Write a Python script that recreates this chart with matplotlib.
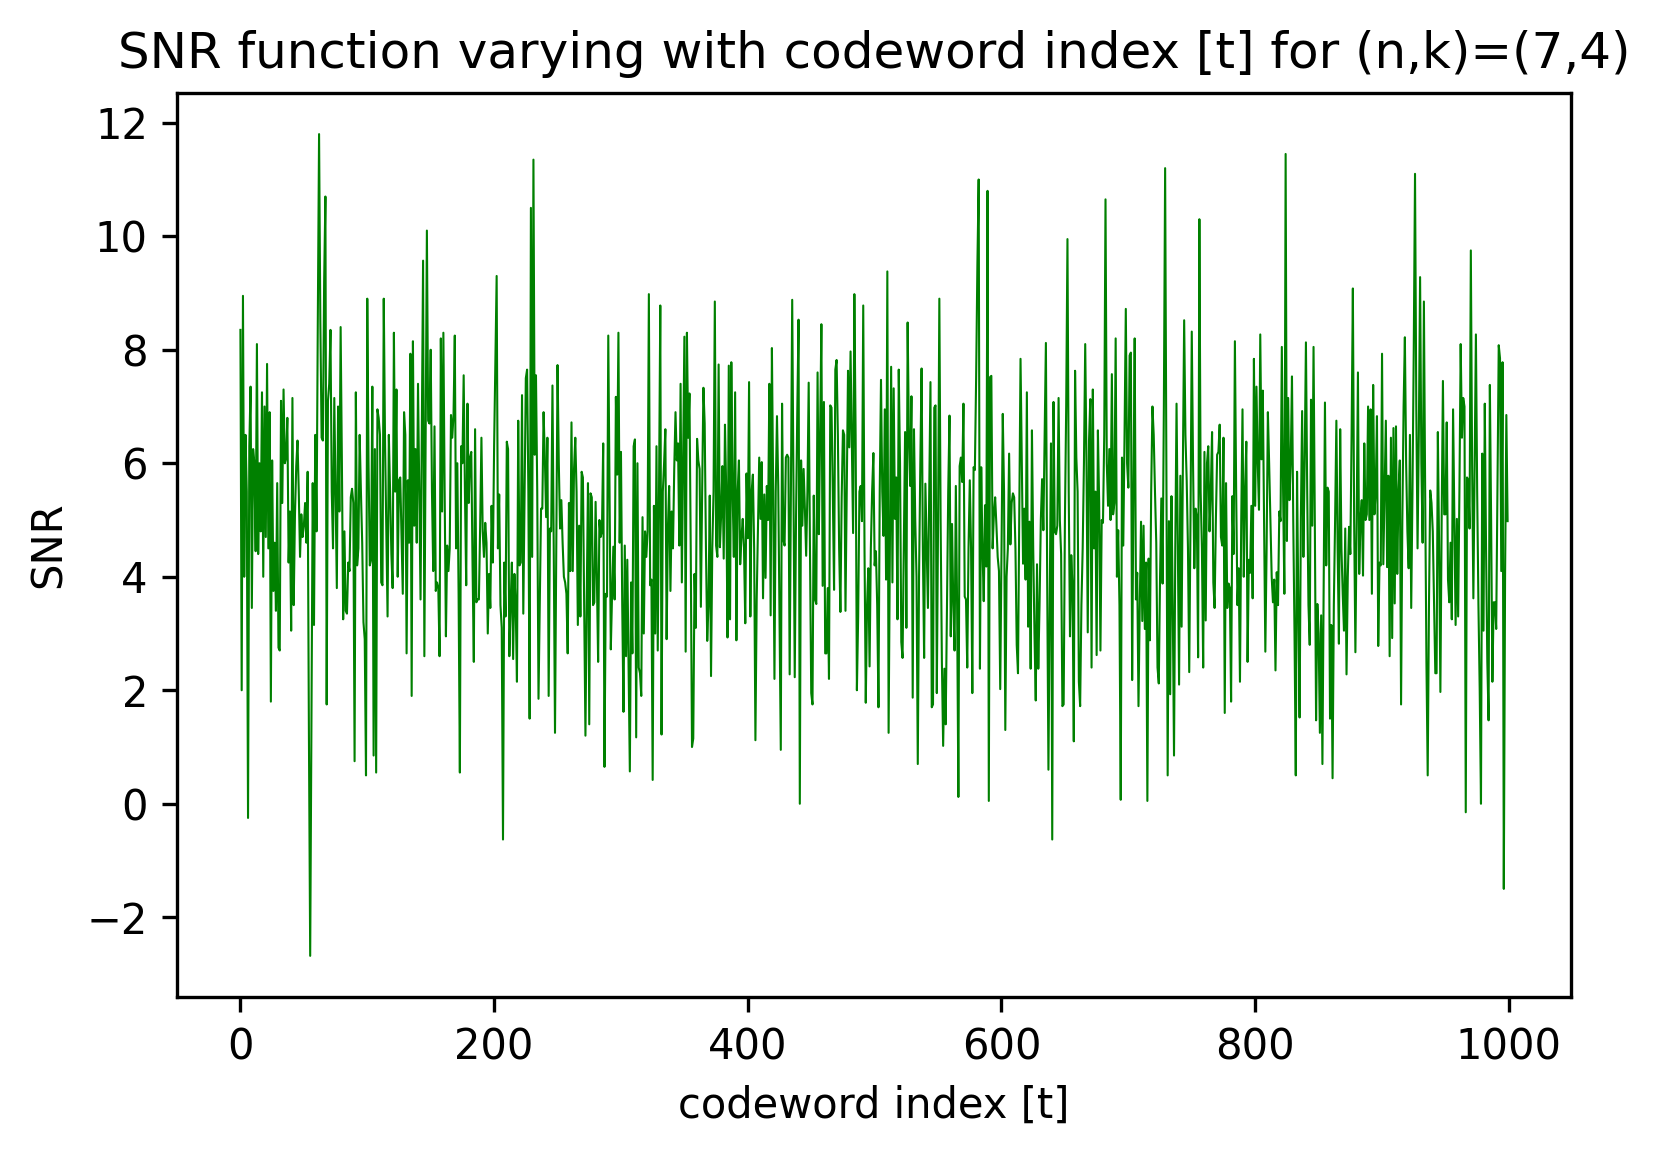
import numpy as np
import matplotlib.pyplot as plt

'''declare variable'''
plot_title = 'SNR function varying with codeword index [t] for (n,k)=(7,4)'
plot_save = 'out.png'

'''data (read off the reference, in blocks of codeword index)'''
snr_000_082 = [8.35, 2.0, 8.95, 4.0, 6.5, 5.5, -0.25, 6.3, 7.35, 3.45,
               6.25, 6.0, 4.45, 8.1, 4.4, 6.0, 4.8, 7.25, 4.0, 7.0,
               4.7, 7.75, 4.5, 6.9, 1.8, 6.05, 3.75, 4.6, 3.4, 5.65,
               2.75, 2.7, 7.1, 5.3, 7.3, 6.0, 6.1, 6.8, 4.25, 5.15,
               3.05, 7.15, 3.5, 5.1, 5.95, 6.4, 5.5, 4.35, 5.1, 4.7,
               4.9, 5.3, 4.6, 5.85, 1.2,
               -2.68, 1.5, 5.65, 3.15, 6.5, 4.8, 8.5, 11.8,
               8.5, 6.45, 6.4, 9.2, 10.7, 1.75, 7.1, 7.4, 8.35, 5.5,
               4.5, 7.15, 5.5, 3.8, 7.0, 5.15, 8.4, 6.0, 3.25, 4.8]
snr_083_167 = [3.4, 3.35, 4.25, 4.1, 5.4, 5.55, 5.3, 0.75, 7.25, 4.2,
               4.5, 6.5, 5.5, 4.6, 3.2, 2.9, 0.5, 8.9, 6.0, 4.2,
               4.3, 7.35, 0.85, 6.25, 0.55, 6.95, 6.8, 6.5, 3.9, 3.85,
               8.9, 6.4, 4.9, 3.3, 6.5, 5.5, 4.4, 3.8, 8.3, 5.5,
               7.3, 4.0, 5.7, 5.75, 4.7, 3.7, 6.9, 6.5, 2.65, 5.7,
               4.6, 7.93, 1.9, 8.15, 4.9, 6.25, 4.6, 7.4, 5.5, 3.6,
               6.7, 9.57, 2.6, 6.5, 10.1, 6.75, 6.7, 8.0, 5.5, 4.1,
               6.65, 3.75, 3.9, 3.8, 2.6, 8.2, 5.15, 8.3, 5.5, 2.95,
               4.55, 4.1, 4.5, 6.85, 6.45]
snr_168_252 = [6.85, 8.25, 4.5, 6.0, 3.7, 0.55, 6.3, 6.0, 7.55, 5.5,
               3.85, 7.05, 5.3, 6.1, 6.2, 4.2, 2.5, 6.6, 3.55, 3.6,
               3.6, 4.9, 6.45, 4.8, 4.35, 4.95, 4.6, 3.0, 4.05, 3.45,
               5.25, 4.25, 6.3, 7.8, 9.3, 4.5, 5.45, 3.5, 3.1, -0.63,
               4.25, 3.3, 6.38, 6.25, 2.6, 3.5, 4.25, 2.55, 4.05, 3.5,
               2.15, 6.75, 4.2, 4.25, 7.2, 3.35, 5.5, 7.5, 7.65, 5.5,
               1.5, 10.5, 4.35, 11.35, 6.15, 7.55, 5.5, 1.85, 3.5, 5.2,
               5.2, 6.9, 6.1, 5.05, 6.45, 1.9, 4.85, 4.8, 7.37, 4.5,
               1.25, 4.5, 7.73, 6.0, 4.85]
snr_253_338 = [5.35, 4.6, 4.0, 3.9, 3.7, 2.65, 5.3, 4.1, 6.72, 4.1,
               5.9, 6.45, 5.5, 3.15, 4.9, 3.3, 5.85, 5.75, 3.5, 1.2,
               3.6, 5.65, 1.4, 5.47, 5.4, 3.5, 3.55, 5.32, 4.0, 2.5,
               5.0, 4.7, 4.8, 6.35, 0.65, 3.7, 3.65, 8.25, 5.5, 2.72,
               3.7, 4.53, 3.6, 7.17, 5.8, 8.3, 4.6, 6.2, 3.5, 1.62,
               4.55, 2.6, 4.3, 2.5, 0.57, 3.9, 2.65, 6.3, 6.42, 1.17,
               6.0, 2.4, 2.3, 1.9, 5.05, 3.0, 4.8, 4.35, 4.8, 8.98,
               3.85, 3.95, 0.42, 5.25, 3.0, 6.3, 2.7, 5.5, 8.78, 1.22,
               5.5, 6.0, 6.6, 2.9, 4.85, 5.6]
snr_339_423 = [3.75, 5.15, 4.5, 5.9, 6.9, 6.05, 6.35, 4.55, 7.4, 3.9,
               6.0, 8.23, 2.68, 8.3, 6.45, 7.23, 4.5, 1.0, 1.15, 4.05,
               3.1, 6.43, 6.05, 5.9, 3.47, 5.5, 7.33, 6.7, 4.5, 2.87,
               3.5, 5.43, 2.25, 4.5, 5.5, 8.85, 4.55, 4.35, 7.74, 4.52,
               5.1, 5.95, 4.32, 6.68, 5.5, 2.93, 7.72, 3.25, 7.78, 5.5,
               4.35, 7.25, 2.88, 5.5, 6.05, 4.22, 4.7, 5.02, 4.5, 3.18,
               5.82, 4.68, 7.43, 3.3, 5.5, 5.8, 4.5, 1.12, 3.6, 4.9,
               6.1, 5.02, 6.02, 3.62, 5.45, 3.98, 5.6, 5.0, 7.4, 3.32,
               8.03, 5.5, 2.2, 5.5, 6.83]
snr_424_508 = [5.6, 3.3, 0.95, 7.05, 4.65, 4.55, 6.1, 6.15, 6.1, 2.28,
               5.5, 8.88, 5.5, 2.23, 5.0, 6.9, 8.53, 0.0, 6.05, 4.9,
               5.9, 5.2, 4.37, 5.5, 7.42, 4.5, 1.95, 1.75, 5.43, 3.6,
               3.52, 7.6, 4.75, 6.5, 8.45, 3.84, 7.08, 2.65, 2.65, 3.8,
               2.2, 7.02, 6.98, 5.5, 3.77, 7.65, 7.82, 6.5, 4.5, 3.38,
               5.4, 6.58, 6.5, 3.4, 5.5, 7.63, 6.28, 7.97, 6.3, 4.77,
               8.98, 6.5, 2.0, 3.3, 5.5, 5.6, 4.98, 8.78, 4.5, 1.78,
               3.5, 4.15, 2.42, 4.5, 5.5, 6.18, 4.2, 4.45, 3.5, 1.7,
               5.5, 7.47, 5.5, 4.72, 6.95]
snr_509_593 = [3.95, 9.38, 1.25, 4.5, 7.7, 3.9, 7.32, 5.02, 5.75, 3.25,
               7.65, 6.0, 2.85, 2.57, 4.5, 6.55, 3.1, 8.48, 6.5, 5.6,
               7.18, 1.87, 6.6, 5.0, 4.0, 0.7, 4.0, 6.0, 7.67, 4.5,
               2.57, 5.64, 4.5, 3.45, 5.5, 7.43, 1.7, 1.75, 6.98, 7.02,
               1.95, 5.0, 8.9, 5.0, 2.5, 1.02, 2.38, 1.4, 3.5, 5.5,
               6.84, 2.95, 4.93, 3.5, 2.7, 5.6, 3.5, 0.12, 5.95, 6.1,
               5.67, 7.05, 3.65, 3.6, 2.4, 4.5, 5.7, 4.5, 1.95, 5.93,
               5.88, 7.5, 9.5, 11.0, 2.38, 5.93, 4.5, 3.57, 5.26, 4.18,
               10.8, 0.05, 7.52, 7.54, 4.5]
snr_594_678 = [5.1, 5.4, 4.9, 4.35, 4.1, 2.02, 4.5, 6.87, 5.5, 1.3,
               4.0, 4.5, 6.17, 4.57, 5.3, 5.47, 5.4, 4.5, 2.8, 2.3,
               5.0, 7.84, 6.0, 4.23, 5.2, 3.95, 7.25, 3.12, 4.97, 2.38,
               6.58, 4.5, 3.0, 1.82, 4.22, 2.38, 3.5, 5.0, 5.72, 4.82,
               6.5, 8.12, 4.0, 0.6, 3.5, 6.35, -0.63, 7.08, 4.8, 4.75,
               4.9, 7.15, 5.0, 4.4, 1.72, 1.75, 5.0, 7.0, 9.95, 5.5,
               2.95, 4.38, 3.8, 1.1, 7.63, 6.1, 5.5, 2.15, 1.72, 3.5,
               4.5, 6.0, 8.1, 6.0, 3.02, 6.4, 7.13, 2.4, 7.3, 4.5,
               5.5, 2.62, 6.58, 5.3, 2.7]
snr_679_764 = [5.0, 4.95, 6.5, 10.65, 6.0, 5.25, 6.25, 5.0, 7.57, 5.1,
               5.3, 8.2, 4.0, 4.82, 3.5, 0.07, 6.1, 4.55, 6.5, 8.72,
               6.0, 5.57, 7.9, 7.95, 2.18, 5.5, 8.2, 3.6, 4.07, 1.72,
               3.5, 4.97, 3.22, 4.9, 3.08, 4.25, 0.05, 4.32, 2.88, 5.5,
               7.0, 6.5, 5.5, 4.6, 2.4, 2.12, 4.0, 5.38, 3.88, 7.0,
               11.2, 6.0, 0.5, 4.98, 1.93, 5.42, 3.5, 0.85, 4.5, 7.05,
               4.5, 2.1, 5.78, 3.12, 6.0, 8.52, 6.5, 5.7, 4.5, 2.32,
               5.0, 8.32, 6.0, 4.15, 5.2, 5.05, 2.58, 10.3, 5.5, 4.5,
               2.4, 6.2, 3.23, 6.0, 6.3, 4.8]
snr_765_849 = [5.5, 6.55, 3.9, 3.45, 5.0, 6.15, 6.2, 6.68, 4.7, 4.55,
               6.45, 1.6, 5.65, 3.45, 3.88, 3.8, 1.8, 5.42, 4.4, 8.15,
               5.5, 3.5, 4.15, 2.15, 5.0, 6.95, 4.0, 5.5, 6.38, 2.5,
               4.3, 4.07, 5.25, 3.62, 7.84, 5.25, 7.35, 6.0, 5.18, 8.27,
               6.07, 7.28, 5.0, 2.68, 4.5, 6.9, 6.0, 5.0, 4.0, 3.55,
               3.95, 2.35, 4.08, 3.5, 5.15, 4.98, 8.05, 5.5, 3.7, 11.45,
               4.63, 7.15, 5.35, 6.0, 7.53, 5.0, 3.0, 0.5, 5.85, 3.5,
               1.52, 5.0, 6.92, 4.35, 6.0, 8.13, 5.5, 3.5, 2.8, 7.12,
               4.9, 8.05, 5.0, 1.47, 3.52]
snr_850_934 = [3.0, 1.25, 3.32, 0.7, 4.0, 7.07, 4.2, 5.57, 5.5, 1.5,
               3.15, 0.45, 3.5, 5.0, 6.75, 4.5, 2.82, 6.6, 4.5, 3.7,
               3.05, 4.85, 2.28, 4.0, 4.88, 4.4, 6.5, 9.08, 5.0, 2.67,
               5.0, 7.6, 4.05, 5.0, 5.35, 4.02, 6.35, 5.0, 5.1, 7.0,
               5.0, 6.95, 3.7, 7.38, 5.1, 5.5, 6.83, 2.78, 4.25, 4.2,
               7.93, 4.22, 5.5, 6.75, 4.17, 5.78, 2.6, 6.45, 2.92, 6.62,
               3.53, 6.65, 4.05, 5.5, 6.05, 1.75, 5.0, 7.0, 8.22, 6.0,
               4.8, 4.15, 6.5, 3.45, 5.5, 8.0, 11.1, 7.0, 4.5, 6.5,
               9.28, 6.0, 4.6, 8.85, 5.5]
snr_935_999 = [2.5, 0.5, 3.5, 5.52, 5.3, 4.8, 3.5, 2.3, 2.3, 6.55,
               4.5, 1.97, 5.0, 7.45, 5.1, 5.1, 6.72, 3.95, 3.55, 4.6,
               3.25, 6.95, 5.0, 3.15, 5.02, 3.3, 5.5, 8.1, 6.45, 7.15,
               7.0, -0.15, 5.75, 5.7, 4.85, 9.75, 6.0, 3.62, 6.0, 8.27,
               5.5, 3.5, 2.0, 0.0, 6.17, 3.05, 7.05, 4.5, 2.5, 1.47,
               7.38, 5.0, 2.15, 3.55, 3.55, 3.08, 5.5, 8.08, 7.85, 4.1,
               7.78, -1.5, 4.0, 6.85, 4.98]

snr = (snr_000_082 + snr_083_167 + snr_168_252 + snr_253_338
       + snr_339_423 + snr_424_508 + snr_509_593 + snr_594_678
       + snr_679_764 + snr_765_849 + snr_850_934 + snr_935_999)
t = np.arange(len(snr))  # codeword index

'''visualize'''
fig = plt.figure(figsize=(1661 / 300, 1154 / 300), dpi=300)
ax = fig.add_axes([0.1066, 0.1361, 0.8392, 0.7833])

ax.plot(t, snr, color='green', lw=0.5)

ax.set_title(plot_title)
ax.set_xlabel('codeword index [t]')
ax.set_ylabel('SNR')

plt.savefig(plot_save, dpi=300)
